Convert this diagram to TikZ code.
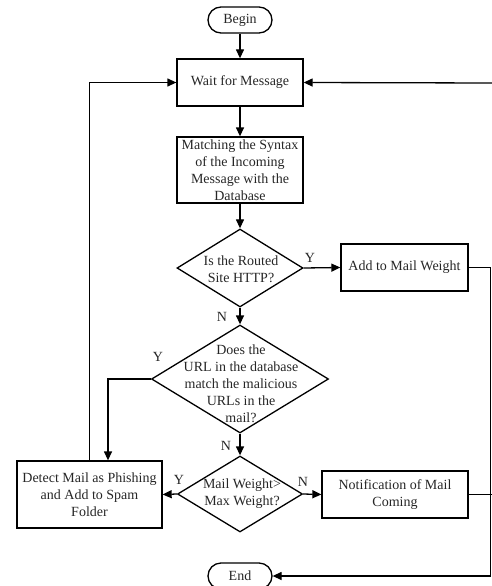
\documentclass[tikz,border=0pt]{standalone}
\usepackage{fontspec}
\setmainfont{Liberation Serif}
\usetikzlibrary{shapes.geometric,arrows.meta}
\begin{document}
\begin{tikzpicture}[x=1pt,y=-1pt,
  txt/.style={font=\fontsize{14}{17}\selectfont, text=black!85},
  box/.style={draw, line width=1.3pt, align=center, inner sep=0pt, txt},
  term/.style={box, rounded corners=13pt, minimum width=64pt, minimum height=26pt},
  dia/.style={draw, diamond, line width=1.3pt, inner sep=0pt},
  dtext/.style={align=center, txt, inner sep=0pt},
  arr/.style={line width=1.3pt, -{Triangle[length=9pt,width=8pt]}},
  ln/.style={line width=1.3pt},
  lab/.style={txt, inner sep=0pt}]
\useasboundingbox (0,0) rectangle (492,586);

\node[term] (begin) at (240,20) {Begin};
\node[box, minimum width=126pt, minimum height=47pt] (wait) at (240,82.5) {Wait for Message};
\node[box, minimum width=126pt, minimum height=66pt] (match) at (240,170) {Matching the Syntax\\of the Incoming\\Message with the\\Database};
\node[dia, minimum width=126pt, minimum height=78pt] (d1) at (240,268) {};
\node[dtext] (d1t) at (241,269) {Is the Routed\\Site HTTP?};
\node[box, minimum width=127pt, minimum height=47pt] (add) at (404.5,267.5) {Add to Mail Weight};
\node[dia, minimum width=177pt, minimum height=108pt] (d2) at (240,379) {};
\node[dtext] (d2t) at (241,384) {Does the\\URL in the database\\match the malicious\\URLs in the\\mail?};
\node[dia, minimum width=125pt, minimum height=76pt] (d3) at (240,494) {};
\node[dtext] (d3t) at (242,494) {Mail Weight>\\Max Weight?};
\node[box, minimum width=145pt, minimum height=67pt] (detect) at (89.5,494.5) {Detect Mail as Phishing\\and Add to Spam\\Folder};
\node[box, minimum width=146pt, minimum height=47pt] (notif) at (395,494.5) {Notification of Mail\\Coming};
\node[term] (end) at (240,576) {End};

\draw[arr] (begin) -- (wait);
\draw[arr] (wait) -- (match);
\draw[arr] (match) -- (d1);
\draw[arr] (d1.east) -- (add.west);
\draw[arr] (d1.south) -- (d2.north);
\draw[arr] (d2.west) -| ([xshift=18.5pt]detect.north);
\draw[arr] (d2.south) -- (d3.north);
\draw[arr] (d3.west) -- (detect.east);
\draw[arr] (d3.east) -- (notif.west);
\draw[arr] (detect.north) |- (wait.west);
\draw[arr] (add.east) -- ++(22,0) |- (end.east);
\draw[ln] (notif.east) -- ++(24,0);
\coordinate (tr) at (492,83);
\draw[arr] (tr) -- (wait.east);

\node[lab] (y1) at (310,258) {Y};
\node[lab] (n1) at (222,317) {N};
\node[lab] (y2) at (158,357) {Y};
\node[lab] (n2) at (226,446) {N};
\node[lab] (y3) at (179,480) {Y};
\node[lab] (n3) at (303,482) {N};
\end{tikzpicture}
\end{document}
